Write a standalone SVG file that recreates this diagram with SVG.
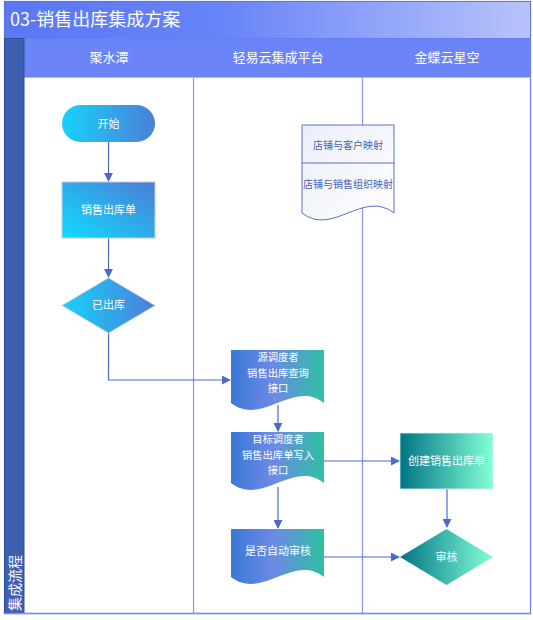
<svg xmlns="http://www.w3.org/2000/svg" width="533" height="620" viewBox="0 0 533 620">
<defs>
<linearGradient id="gTitle" x1="0" y1="0" x2="1" y2="0">
<stop offset="0" stop-color="#5a78f5"/><stop offset="0.4" stop-color="#6683f7"/><stop offset="1" stop-color="#b8c3fb"/>
</linearGradient>
<linearGradient id="gBlueH" x1="0" y1="0" x2="1" y2="0">
<stop offset="0" stop-color="#17d2fa"/><stop offset="1" stop-color="#4c7fd8"/>
</linearGradient>
<linearGradient id="gBlueD" x1="0" y1="1" x2="1" y2="0">
<stop offset="0" stop-color="#10dcff"/><stop offset="1" stop-color="#4c7cd6"/>
</linearGradient>
<linearGradient id="gDoc" x1="0" y1="0" x2="1" y2="0">
<stop offset="0" stop-color="#3a78d6"/><stop offset="0.45" stop-color="#6d89e6"/><stop offset="1" stop-color="#2ec0a2"/>
</linearGradient>
<linearGradient id="gTeal" x1="0" y1="0" x2="1" y2="0">
<stop offset="0" stop-color="#007585"/><stop offset="1" stop-color="#84ffd6"/>
</linearGradient>
<linearGradient id="gMap" x1="0" y1="0" x2="1" y2="1">
<stop offset="0" stop-color="#eceef8"/><stop offset="1" stop-color="#ffffff"/>
</linearGradient>
<marker id="arr" viewBox="0 0 10 10" refX="9" refY="5" markerWidth="9" markerHeight="9" markerUnits="userSpaceOnUse" orient="auto">
<path d="M0,0 L10,5 L0,10 Z" fill="#4a6cc8"/>
</marker>
</defs>
<style>
.lane{stroke:#8797f2;stroke-width:1.2;fill:none}
.hdr{font-family:"Noto Sans CJK SC","Liberation Sans",sans-serif;font-size:13px;fill:#ffffff;text-anchor:middle}
.t{font-family:"Noto Sans CJK SC","Liberation Sans",sans-serif;font-size:11px;fill:#ffffff;text-anchor:middle}
.t2{font-family:"Noto Sans CJK SC","Liberation Sans",sans-serif;font-size:10.3px;fill:#ffffff;text-anchor:middle}
.tm{font-family:"Noto Sans CJK SC","Liberation Sans",sans-serif;font-size:10px;fill:#4a5fb4;text-anchor:middle}
.c{stroke:#4a6cc8;stroke-width:1.2;fill:none;marker-end:url(#arr)}
</style>
<rect x="0" y="0" width="533" height="620" fill="#ffffff"/>
<g id="pool">
<rect x="4.5" y="1.5" width="526" height="612" fill="#ffffff" stroke="#6a80e8" stroke-width="1.2"/>
<rect x="4.5" y="1.5" width="526" height="37" fill="url(#gTitle)" stroke="#5a74e0" stroke-width="1"/>
<text x="10" y="26" font-family="Noto Sans CJK SC,Liberation Sans,sans-serif" font-size="18" fill="#ffffff">03-销售出库集成方案</text>
<rect x="24" y="38.5" width="506.5" height="39" fill="#6b85f9"/>
<line x1="24" y1="77.5" x2="530.5" y2="77.5" stroke="#a8b6ff" stroke-width="1"/>
<rect x="4.5" y="38.5" width="19.5" height="575" fill="#3d5fb0" stroke="#2f4f9a" stroke-width="1"/>
<text transform="translate(20,611) rotate(-90)" font-family="Noto Sans CJK SC,Liberation Sans,sans-serif" font-size="14" fill="#ffffff">集成流程</text>
<text class="hdr" x="109" y="62">聚水潭</text>
<text class="hdr" x="278" y="62">轻易云集成平台</text>
<text class="hdr" x="447" y="62">金蝶云星空</text>
<line class="lane" x1="193.5" y1="77.5" x2="193.5" y2="613.5"/>
<line class="lane" x1="362.5" y1="77.5" x2="362.5" y2="613.5"/>
<line x1="4.5" y1="613.5" x2="530.5" y2="613.5" stroke="#7a8cf0" stroke-width="1.5"/>
</g>
<g id="connectors">
<path class="c" d="M108.5,142 V181"/>
<path class="c" d="M108.5,238 V277"/>
<path class="c" d="M108.5,333 V380 H230"/>
<path class="c" d="M278,405 V431"/>
<path class="c" d="M324,461 H399"/>
<path class="c" d="M447,489 V527"/>
<path class="c" d="M278,487 V528"/>
<path class="c" d="M324,557 H399"/>
</g>
<g id="start">
<rect x="62" y="105" width="93" height="37" rx="18.5" fill="url(#gBlueH)"/>
<text class="t" x="108.5" y="128">开始</text>
</g>
<g id="salesOrder">
<rect x="62" y="182" width="93" height="56" fill="url(#gBlueD)" stroke="#c8ccd8" stroke-width="1"/>
<text class="t" x="108.5" y="214">销售出库单</text>
</g>
<g id="shipped">
<path d="M108.5,278 L155,305.5 L108.5,333 L62,305.5 Z" fill="url(#gBlueH)" stroke="#c8ccd8" stroke-width="0.8"/>
<text class="t" x="108.5" y="309">已出库</text>
</g>
<g id="mapping">
<path d="M302,125 H394 V213 C363,189 333,237 302,213 Z" fill="url(#gMap)" stroke="#5a70c4" stroke-width="1"/>
<line x1="302" y1="163" x2="394" y2="163" stroke="#5a70c4" stroke-width="1"/>
<text class="tm" x="348" y="149">店铺与客户映射</text>
<text class="tm" x="348" y="188">店铺与销售组织映射</text>
</g>
<g id="sourceQuery">
<path d="M231,350 H324 V403 C293,379 262,427 231,403 Z" fill="url(#gDoc)"/>
<text class="t2" x="278" y="361">源调度者</text>
<text class="t2" x="278" y="376.5">销售出库查询</text>
<text class="t2" x="278" y="392">接口</text>
</g>
<g id="targetWrite">
<path d="M231,432 H324 V483 C293,459 262,507 231,483 Z" fill="url(#gDoc)"/>
<text class="t2" x="278" y="443">目标调度者</text>
<text class="t2" x="278" y="458.5">销售出库单写入</text>
<text class="t2" x="278" y="474">接口</text>
</g>
<g id="autoAudit">
<path d="M231,529 H324 V577 C293,553 262,601 231,577 Z" fill="url(#gDoc)"/>
<text class="t" x="278" y="555">是否自动审核</text>
</g>
<g id="createOrder">
<rect x="400" y="433" width="93" height="56" fill="url(#gTeal)" stroke="#d8f5ee" stroke-width="0.8"/>
<text class="t" x="446.5" y="465">创建销售出库单</text>
</g>
<g id="audit">
<path d="M446.5,529 L493,557 L446.5,585 L400,557 Z" fill="url(#gTeal)"/>
<text class="t" x="446.5" y="561">审核</text>
</g>
</svg>
